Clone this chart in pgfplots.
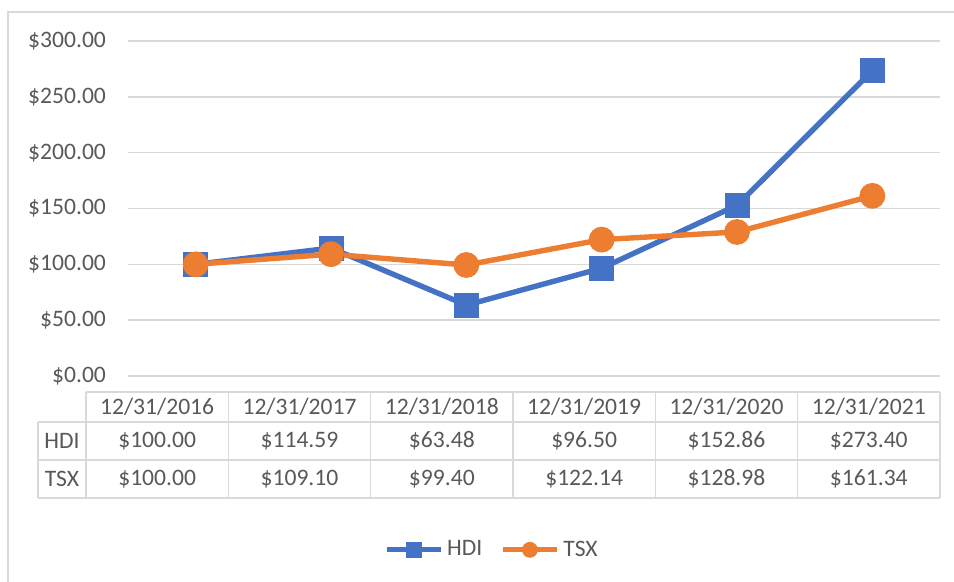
\documentclass[border=0pt]{standalone}
\usepackage{pgfplots}
\pgfplotsset{compat=1.18}
\usepackage{fontspec}
\setmainfont{Carlito}
\definecolor{hdiblue}{HTML}{4472C4}
\definecolor{tsxorange}{HTML}{ED7D31}
\definecolor{txtgray}{HTML}{595959}
\definecolor{gridgray}{HTML}{D9D9D9}
\begin{document}
\begin{tikzpicture}
\path[use as bounding box] (0,0) rectangle (477pt,-291pt);
% outer chart border (top and left visible)
\draw[gridgray,line width=0.8pt] (4pt,0pt-291pt) -- (4pt,-6pt) -- (477pt,-6pt);
\begin{axis}[
  at={(64pt,-188pt)}, anchor=south west,
  scale only axis, width=406pt, height=167.5pt,
  xmin=0.5, xmax=6.5, ymin=0, ymax=300,
  xtick=\empty,
  ytick={0,50,100,150,200,250,300},
  yticklabels={\$0.00,\$50.00,\$100.00,\$150.00,\$200.00,\$250.00,\$300.00},
  yticklabel style={font=\fontsize{11.8}{14}\selectfont, text=txtgray, anchor=east, xshift=-7.5pt},
  major tick length=0pt,
  axis line style={draw=none},
  ymajorgrids, grid style={gridgray, line width=0.8pt},
  clip=false,
  legend columns=2,
  legend style={at={(0.4495,-0.519)}, anchor=center, draw=none, fill=none,
    font=\fontsize{11.8}{14}\selectfont, text=txtgray,
    /tikz/every even column/.append style={column sep=7pt}},
  legend image code/.code={\draw[mark repeat=2,mark phase=2,#1,line width=2.5pt,mark size=3.7pt] plot coordinates {(0pt,0pt) (13.5pt,0pt) (27pt,0pt)};},
]
\addplot[hdiblue, line width=2.7pt, mark=square*, mark size=6pt, mark options={fill=hdiblue, draw=hdiblue, line width=0.5pt}] coordinates {
 (1,100.00) (2,114.59) (3,63.48) (4,96.50) (5,152.86) (6,273.40)};
\addlegendentry{HDI}
\addplot[tsxorange, line width=2.7pt, mark=*, mark size=6.2pt, mark options={fill=tsxorange, draw=tsxorange, line width=0.5pt}] coordinates {
 (1,100.00) (2,109.10) (3,99.40) (4,122.14) (5,128.98) (6,161.34)};
\addlegendentry{TSX}
\end{axis}
% data table
\begin{scope}[x=0.5pt,y=-0.5pt]
\draw[gridgray,line width=0.7pt] (86,392) -- (940,392);
\foreach \yy in {422,460,498} {\draw[gridgray,line width=0.7pt] (38,\yy) -- (940,\yy);}
\draw[gridgray,line width=0.7pt] (38,422) -- (38,498);
\foreach \i in {0,...,6} {\draw[gridgray,line width=0.7pt] (86+\i*142.33,392) -- (86+\i*142.33,498);}
\begin{scope}[every node/.style={font=\fontsize{11.8}{14}\selectfont, text=txtgray, inner sep=0pt}]
\foreach \lab [count=\i from 0] in {12/31/2016,12/31/2017,12/31/2018,12/31/2019,12/31/2020,12/31/2021}
  {\node at (157.17+\i*142.33,407) {\lab};}
\node at (62,441) {HDI};
\node at (62,479) {TSX};
\foreach \lab [count=\i from 0] in {\$100.00,\$114.59,\$63.48,\$96.50,\$152.86,\$273.40}
  {\node at (157.17+\i*142.33,441) {\lab};}
\foreach \lab [count=\i from 0] in {\$100.00,\$109.10,\$99.40,\$122.14,\$128.98,\$161.34}
  {\node at (157.17+\i*142.33,479) {\lab};}
\end{scope}
\end{scope}
\end{tikzpicture}
\end{document}
